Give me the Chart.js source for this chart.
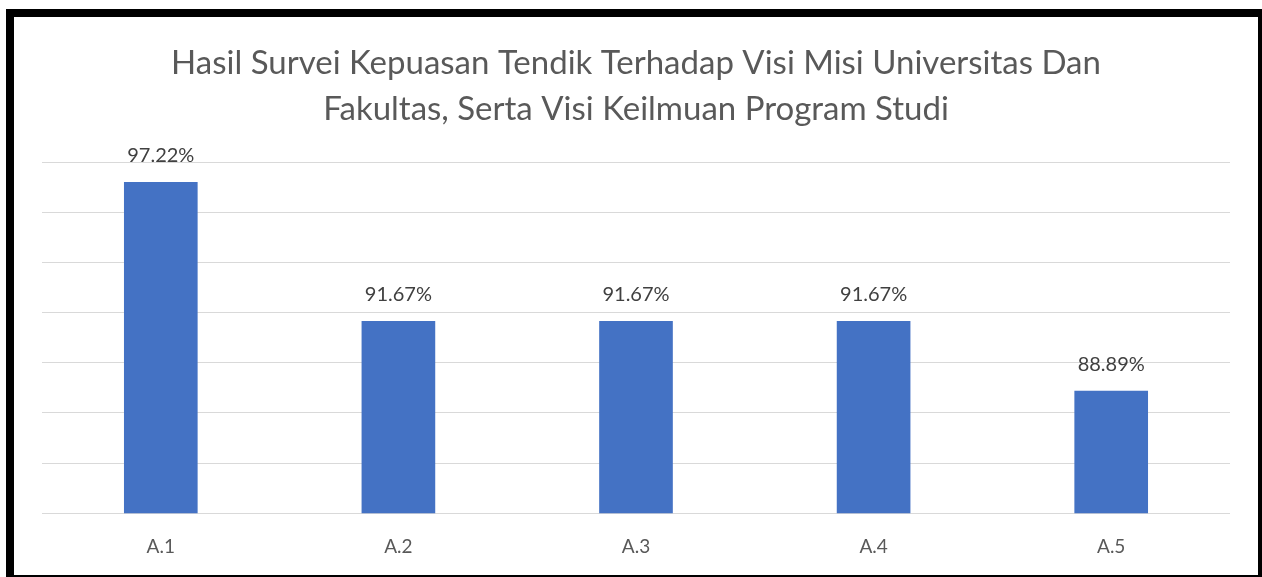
<!DOCTYPE html>
<html>
<head>
<meta charset="utf-8">
<script src="https://cdn.jsdelivr.net/npm/chart.js@4.4.1/dist/chart.umd.min.js"></script>
<style>
  html, body { margin: 0; padding: 0; background: #fff; width: 1262px; height: 577px; overflow: hidden; }
  #frame { position: absolute; left: 6px; top: 9px; width: 1244px; height: 558px;
           border-style: solid; border-color: #000; border-width: 8px 4px 2px 8px; background: #fff; }
  #c { display: block; width: 1244px; height: 558px; }
</style>
</head>
<body>
<div id="frame"><canvas id="c" width="1244" height="558"></canvas></div>
<script>
const categories = ["A.1", "A.2", "A.3", "A.4", "A.5"];
const values = [97.22, 91.67, 91.67, 91.67, 88.89];
const valueLabels = ["97.22%", "91.67%", "91.67%", "91.67%", "88.89%"];
const titleLines = ["Hasil Survei Kepuasan Tendik Terhadap Visi Misi Universitas Dan",
                    "Fakultas, Serta Visi Keilmuan Program Studi"];

const FONT = "Lato, 'Open Sans', sans-serif";

const valueLabelPlugin = {
  id: 'valueLabels',
  afterDatasetsDraw(chart) {
    const ctx = chart.ctx;
    const meta = chart.getDatasetMeta(0);
    ctx.save();
    ctx.font = "20px " + FONT;
    ctx.fillStyle = "#404040";
    ctx.textAlign = "center";
    ctx.textBaseline = "alphabetic";
    meta.data.forEach((bar, i) => {
      ctx.fillText(valueLabels[i], bar.x, bar.y - 20);
    });
    ctx.restore();
  }
};

new Chart(document.getElementById('c'), {
  type: 'bar',
  data: {
    labels: categories,
    datasets: [{
      data: values,
      backgroundColor: '#4472C4',
      borderWidth: 0,
      barPercentage: 0.62,
      categoryPercentage: 0.5
    }]
  },
  options: {
    responsive: false,
    maintainAspectRatio: false,
    animation: false,
    devicePixelRatio: 1,
    layout: { padding: { left: 28, right: 28, top: 0, bottom: -5 } },
    plugins: {
      legend: { display: false },
      tooltip: { enabled: false },
      title: {
        display: true,
        text: titleLines,
        color: '#595959',
        font: { family: FONT, size: 33, weight: 'normal', lineHeight: 1.4 },
        padding: { top: 23, bottom: 30 }
      }
    },
    scales: {
      x: {
        grid: { display: false, drawTicks: false },
        border: { display: false },
        ticks: { color: '#595959', font: { family: FONT, size: 19 }, padding: 22 }
      },
      y: {
        min: 84, max: 98,
        ticks: { display: false, stepSize: 2 },
        grid: { color: '#D9D9D9', lineWidth: 1, drawTicks: false },
        border: { display: false }
      }
    }
  },
  plugins: [valueLabelPlugin]
});
</script>
</body>
</html>
